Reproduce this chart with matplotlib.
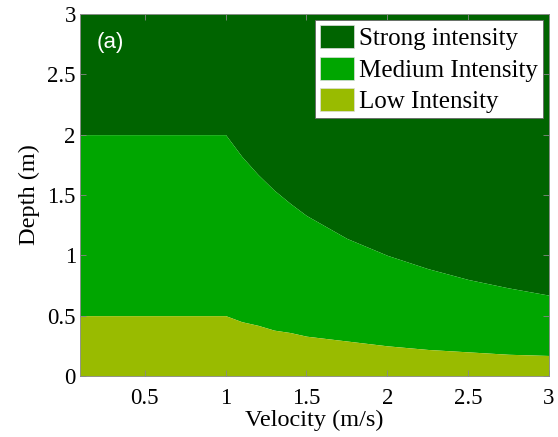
import numpy as np
import matplotlib.pyplot as plt
from matplotlib.patches import Patch

# boundary depths
velocity = [0.1, 0.5, 1.0, 1.1, 1.2, 1.3, 1.4, 1.5, 1.75, 2.0, 2.25, 2.5, 2.75, 3.0]
medium_top = [2.0, 2.0, 2.0, 1.82, 1.67, 1.54, 1.43, 1.33, 1.14, 1.0, 0.89, 0.8, 0.73, 0.67]
low_top = [0.5, 0.5, 0.5, 0.45, 0.42, 0.38, 0.36, 0.33, 0.29, 0.25, 0.22, 0.2, 0.18, 0.17]
depth_max = 3.0

labels = ['Strong intensity', 'Medium Intensity', 'Low Intensity']
colors = ['#006400', '#00A600', '#99BB00']

plt.rcParams['font.family'] = ['Liberation Serif', 'DejaVu Serif']

fig = plt.figure(figsize=(5.58, 4.37), dpi=100)
ax = fig.add_axes([0.1434, 0.1396, 0.8405, 0.8284])

v = np.array(velocity)
ax.fill_between(v, medium_top, depth_max, color=colors[0], lw=0)
ax.fill_between(v, low_top, medium_top, color=colors[1], lw=0)
ax.fill_between(v, 0, low_top, color=colors[2], lw=0)

ax.set_xlim(0.1, 3)
ax.set_ylim(0, 3)
ax.set_xticks([0.5, 1, 1.5, 2, 2.5, 3])
ax.set_xticklabels(['0.5', '1', '1.5', '2', '2.5', '3'])
ax.set_yticks([0, 0.5, 1, 1.5, 2, 2.5, 3])
ax.set_yticklabels(['0', '0.5', '1', '1.5', '2', '2.5', '3'])
ax.tick_params(direction='in', top=True, right=True, labelsize=16.5, length=4,
               color='#888888', width=0.6, pad=3)
ax.tick_params(axis='x', pad=9)
for s in ax.spines.values():
    s.set_color('#888888')
    s.set_linewidth(0.6)

ax.set_xlabel('Velocity (m/s)', fontsize=17.5, labelpad=0)
ax.set_ylabel('Depth (m)', fontsize=17.5, labelpad=5)

ax.text(0.036, 0.95, '(a)', transform=ax.transAxes, color='white',
        fontsize=16, family='Liberation Sans', va='top')

handles = [Patch(facecolor=c, edgecolor='#dddddd', lw=0.5) for c in colors]
leg = ax.legend(handles, labels, loc='upper right', fontsize=18, frameon=True,
                fancybox=False, edgecolor='#666666', framealpha=1,
                borderpad=0.2, labelspacing=0.25, handlelength=1.35,
                handleheight=1.05, handletextpad=0.2, borderaxespad=0.25)
leg.get_frame().set_linewidth(0.6)

fig.savefig('out.png', dpi=100)
